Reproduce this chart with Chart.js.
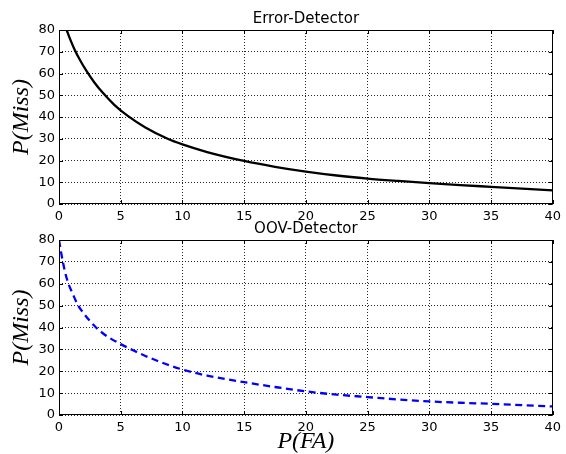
<!DOCTYPE html>
<html><head><meta charset="utf-8">
<script src="https://cdn.jsdelivr.net/npm/chart.js@4/dist/chart.umd.min.js"></script>
<style>
html,body{margin:0;padding:0;background:#fff;}
body{width:566px;height:454px;position:relative;overflow:hidden;}
#c1{position:absolute;left:0;top:0;}
#c2{position:absolute;left:0;top:212px;}
</style></head><body>
<canvas id="c1" width="566" height="224"></canvas>
<canvas id="c2" width="566" height="242"></canvas>
<script>
const xTicks = [0, 5, 10, 15, 20, 25, 30, 35, 40];
const yTicks = [0, 10, 20, 30, 40, 50, 60, 70, 80];
const panelTitles = ['Error-Detector', 'OOV-Detector'];
const yLabel = 'P(Miss)';
const xLabel = 'P(FA)';

const errorFA   = [0.62, 0.9, 1.25, 1.7, 2.2, 2.85, 3.57, 4.5, 5.6, 7, 8.8, 10, 12, 15, 17.5, 20, 22.5, 25, 27.5, 30, 32.5, 35, 37.5, 40];
const errorMiss = [80, 75.8, 71.2, 66.2, 61.4, 56, 51, 45.5, 40.4, 35.2, 30, 27.4, 23.9, 19.8, 17.1, 14.9, 13.1, 11.7, 10.6, 9.6, 8.7, 7.9, 7.1, 6.3];

const oovFA   = [0, 0.15, 0.35, 0.55, 0.8, 1.1, 1.56, 2, 2.5, 3, 3.5, 4, 5, 6, 7, 8, 9, 10, 12, 15, 17.5, 20, 22.5, 25, 27.5, 30, 32.5, 35, 37.5, 40];
const oovMiss = [80, 75, 69, 64, 59.5, 55.5, 50, 46.5, 43, 40, 37.6, 35.6, 32.4, 29.6, 27, 24.7, 22.6, 20.8, 18, 15, 12.8, 10.8, 9.3, 8.2, 7.1, 6.2, 5.6, 5.1, 4.5, 3.9];

Chart.defaults.font.family = 'DejaVu Sans';
Chart.defaults.color = '#000';

const frameTicks = {
  id: 'frameTicks',
  afterDraw(chart) {
    const {ctx, chartArea: a, scales: {x, y}} = chart;
    ctx.save();
    ctx.strokeStyle = '#000';
    ctx.lineWidth = 1;
    ctx.beginPath();
    x.ticks.forEach(t => {
      const p = Math.round(x.getPixelForValue(t.value)) + 0.5;
      ctx.moveTo(p, a.bottom); ctx.lineTo(p, a.bottom - 4);
      ctx.moveTo(p, a.top); ctx.lineTo(p, a.top + 4);
    });
    y.ticks.forEach(t => {
      const p = Math.round(y.getPixelForValue(t.value)) + 0.5;
      ctx.moveTo(a.left, p); ctx.lineTo(a.left + 4, p);
      ctx.moveTo(a.right, p); ctx.lineTo(a.right - 4, p);
    });
    ctx.stroke();
    ctx.strokeRect(Math.round(a.left) + 0.5, Math.round(a.top) + 0.5,
                   Math.round(a.right - a.left) - 1, Math.round(a.bottom - a.top) - 1);
    ctx.restore();
  }
};

function makeChart(id, fa, miss, color, dash, title, titlePad, xHeight, showXTitle) {
  return new Chart(document.getElementById(id), {
    type: 'line',
    data: {
      datasets: [{
        data: fa.map((v, i) => ({x: v, y: miss[i]})),
        borderColor: color,
        borderWidth: 2.3,
        borderDash: dash,
        pointRadius: 0,
        fill: false,
        cubicInterpolationMode: 'monotone'
      }]
    },
    options: {
      responsive: false,
      animation: false,
      devicePixelRatio: 1,
      layout: {padding: {left: 0, right: 10, top: 0, bottom: 0}},
      plugins: {
        legend: {display: false},
        tooltip: {enabled: false},
        title: {
          display: true, text: title, fullSize: false, color: '#000',
          font: {family: 'DejaVu Sans', size: 15, weight: 'normal', lineHeight: 1.2},
          padding: titlePad
        }
      },
      scales: {
        x: {
          type: 'linear', min: 0, max: 40,
          afterBuildTicks: s => { s.ticks = xTicks.map(v => ({value: v})); },
          afterFit: s => { s.height = xHeight; },
          ticks: {color: '#000', font: {size: 13}, padding: 5, maxRotation: 0, autoSkip: false},
          grid: {color: 'rgba(0,0,0,0.85)', lineWidth: 1, drawTicks: false},
          border: {display: false, dash: [1, 2]},
          title: {
            display: showXTitle, text: xLabel, color: '#000',
            font: {family: 'Liberation Serif', style: 'italic', size: 24, lineHeight: 1},
            padding: {top: 0, bottom: 0}
          }
        },
        y: {
          type: 'linear', min: 0, max: 80,
          afterBuildTicks: s => { s.ticks = yTicks.map(v => ({value: v})); },
          afterFit: s => { s.width = 59; },
          ticks: {color: '#000', font: {size: 13}, padding: 4},
          grid: {color: 'rgba(0,0,0,0.85)', lineWidth: 1, drawTicks: false},
          border: {display: false, dash: [1, 2]},
          title: {
            display: true, text: yLabel, color: '#000',
            font: {family: 'Liberation Serif', style: 'italic', size: 24, lineHeight: 1},
            padding: {top: 10, bottom: 0}
          }
        }
      }
    },
    plugins: [frameTicks]
  });
}

makeChart('c1', errorFA, errorMiss, '#000000', [], panelTitles[0], {top: 10, bottom: 2}, 20, false);
makeChart('c2', oovFA, oovMiss, '#0000ff', [7, 4.5], panelTitles[1], {top: 8, bottom: 2}, 39, true);
</script>
</body></html>
